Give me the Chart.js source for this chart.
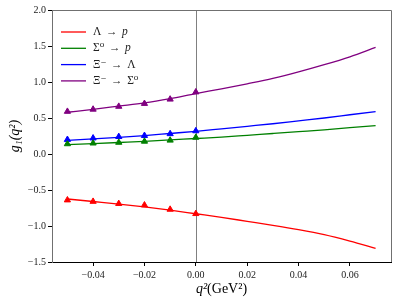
<!DOCTYPE html>
<html>
<head>
<meta charset="utf-8">
<script src="https://cdn.jsdelivr.net/npm/chart.js@4"></script>
<style>
  html, body { margin: 0; padding: 0; background: #fff; }
  #wrap { width: 398px; height: 304px; }
</style>
</head>
<body>
<div id="wrap"><canvas id="formChart" width="398" height="304"></canvas></div>
<script>
// Curve grid (q^2 in GeV^2)
const curveQ2 = [-0.05, -0.04, -0.03, -0.02, -0.01, 0.0, 0.01, 0.02, 0.03, 0.04, 0.05, 0.06, 0.07];
const lambdaP = [-0.625, -0.66, -0.695, -0.735, -0.78, -0.83, -0.88, -0.935, -0.99, -1.05, -1.12, -1.21, -1.31];
const sigmaP = [0.13, 0.145, 0.16, 0.175, 0.195, 0.215, 0.235, 0.26, 0.285, 0.31, 0.335, 0.365, 0.395];
const xiLambda = [0.19, 0.21, 0.23, 0.255, 0.285, 0.315, 0.35, 0.385, 0.42, 0.46, 0.5, 0.545, 0.59];
const xiSigma = [0.58, 0.62, 0.665, 0.71, 0.77, 0.84, 0.905, 0.975, 1.05, 1.14, 1.24, 1.35, 1.48];

// Lattice-like points (triangles)
const pointQ2 = [-0.05, -0.04, -0.03, -0.02, -0.01, 0.0];
const lambdaPts = [-0.64, -0.66, -0.69, -0.71, -0.77, -0.83];
const sigmaPts = [0.14, 0.15, 0.16, 0.175, 0.19, 0.23];
const xiLambdaPts = [0.2, 0.22, 0.24, 0.255, 0.28, 0.32];
const xiSigmaPts = [0.59, 0.62, 0.66, 0.7, 0.76, 0.86];

const labels = ["Λ → p", "Σ⁰ → p", "Ξ⁻ → Λ", "Ξ⁻ → Σ⁰"];
const colors = ["#ff0000", "#008000", "#0000ff", "#800080"];

const xTicks = [-0.04, -0.02, 0.0, 0.02, 0.04, 0.06];
const yTicks = [-1.5, -1.0, -0.5, 0.0, 0.5, 1.0, 1.5, 2.0];

const serif = '"Liberation Serif", "DejaVu Serif", serif';

function toXY(xs, ys) {
    return xs.map((x, i) => ({ x: x, y: ys[i] }));
}

function fmt(v, digits) {
    const s = Math.abs(v).toFixed(digits);
    return (v < -1e-9 ? "\u2212" : "") + s;
}

// draw text where latin letters are italic (math style)
function mathText(ctx, text, x, y, size) {
    let cx = x;
    for (const ch of text) {
        const italic = /[a-z]/.test(ch);
        ctx.font = (italic ? "italic " : "") + size + "px " + serif;
        let t = ch === " " ? "\u2009" : ch;
        if (ch === "→") t = "\u2009→\u2009";
        ctx.fillText(t, cx, y);
        cx += ctx.measureText(t).width;
    }
}

const curves = [lambdaP, sigmaP, xiLambda, xiSigma];
const points = [lambdaPts, sigmaPts, xiLambdaPts, xiSigmaPts];

const datasets = [];
curves.forEach((c, i) => {
    datasets.push({
        label: labels[i],
        data: toXY(curveQ2, c),
        borderColor: colors[i],
        backgroundColor: colors[i],
        borderWidth: 1.3,
        pointRadius: 0,
        cubicInterpolationMode: "monotone",
        showLine: true,
    });
});
points.forEach((p, i) => {
    datasets.push({
        label: "pts" + i,
        data: toXY(pointQ2, p),
        borderColor: colors[i],
        backgroundColor: colors[i],
        pointStyle: "triangle",
        pointRadius: 3.6,
        borderWidth: 1,
        showLine: false,
    });
});

// Frame, zero line, legend and axis titles
const decorPlugin = {
    id: "decor",
    beforeDatasetsDraw(chart) {
        const { ctx, chartArea, scales } = chart;
        const x0 = scales.x.getPixelForValue(0);
        ctx.save();
        ctx.strokeStyle = "#808080";
        ctx.lineWidth = 1;
        ctx.beginPath();
        ctx.moveTo(Math.round(x0) + 0.5, chartArea.top);
        ctx.lineTo(Math.round(x0) + 0.5, chartArea.bottom);
        ctx.stroke();
        ctx.restore();
    },
    afterDraw(chart) {
        const { ctx, chartArea } = chart;
        ctx.save();
        // top / right spines
        ctx.strokeStyle = "#707070";
        ctx.lineWidth = 1;
        ctx.beginPath();
        ctx.moveTo(chartArea.left, chartArea.top + 0.5);
        ctx.lineTo(chartArea.right + 0.5, chartArea.top + 0.5);
        ctx.lineTo(chartArea.right + 0.5, chartArea.bottom);
        ctx.stroke();

        // legend
        ctx.textBaseline = "middle";
        labels.forEach((t, i) => {
            const y = 32 + i * 16.3;
            ctx.strokeStyle = colors[i];
            ctx.lineWidth = 1.3;
            ctx.beginPath();
            ctx.moveTo(61, y);
            ctx.lineTo(86, y);
            ctx.stroke();
            ctx.fillStyle = "#222";
            mathText(ctx, t, 93, y, 11.5);
        });

        // x title
        ctx.fillStyle = "#000";
        ctx.textAlign = "left";
        ctx.font = "italic 14px " + serif;
        const cxm = (chartArea.left + chartArea.right) / 2;
        const w1 = ctx.measureText("q²").width;
        ctx.font = "14px " + serif;
        const w2 = ctx.measureText("(GeV²)").width;
        const sx = cxm - (w1 + w2) / 2;
        ctx.font = "italic 14px " + serif;
        ctx.fillText("q²", sx, 289);
        ctx.font = "14px " + serif;
        ctx.fillText("(GeV²)", sx + w1, 289);

        // y title
        ctx.translate(15, (chartArea.top + chartArea.bottom) / 2);
        ctx.rotate(-Math.PI / 2);
        ctx.textAlign = "center";
        ctx.font = "italic 14px " + serif;
        ctx.fillText("g₁(q²)", 0, 0);
        ctx.restore();
    },
};

const ctx = document.getElementById("formChart").getContext("2d");
const formChart = new Chart(ctx, {
    type: "scatter",
    data: { datasets: datasets },
    options: {
        responsive: false,
        animation: false,
        layout: { padding: { top: 10, right: 7, left: 0, bottom: 0 } },
        plugins: {
            legend: { display: false },
            tooltip: { enabled: false },
        },
        scales: {
            x: {
                type: "linear",
                min: -0.056,
                max: 0.076,
                afterBuildTicks: (s) => { s.ticks = xTicks.map((v) => ({ value: v })); },
                afterFit: (s) => { s.height = 42; },
                grid: { drawOnChartArea: false, tickLength: 4, color: "#000" },
                border: { color: "#000", width: 1 },
                ticks: {
                    font: { family: serif, size: 10 },
                    color: "#222",
                    padding: 3,
                    maxRotation: 0,
                    callback: (v) => fmt(v, 2),
                },
            },
            y: {
                min: -1.5,
                max: 2.0,
                afterBuildTicks: (s) => { s.ticks = yTicks.map((v) => ({ value: v })); },
                afterFit: (s) => { s.width = 52; },
                grid: { drawOnChartArea: false, tickLength: 4, color: "#000" },
                border: { color: "#707070", width: 1 },
                ticks: {
                    font: { family: serif, size: 10 },
                    color: "#222",
                    padding: 2,
                    callback: (v) => fmt(v, 1),
                },
            },
        },
    },
    plugins: [decorPlugin],
});
</script>
</body>
</html>
